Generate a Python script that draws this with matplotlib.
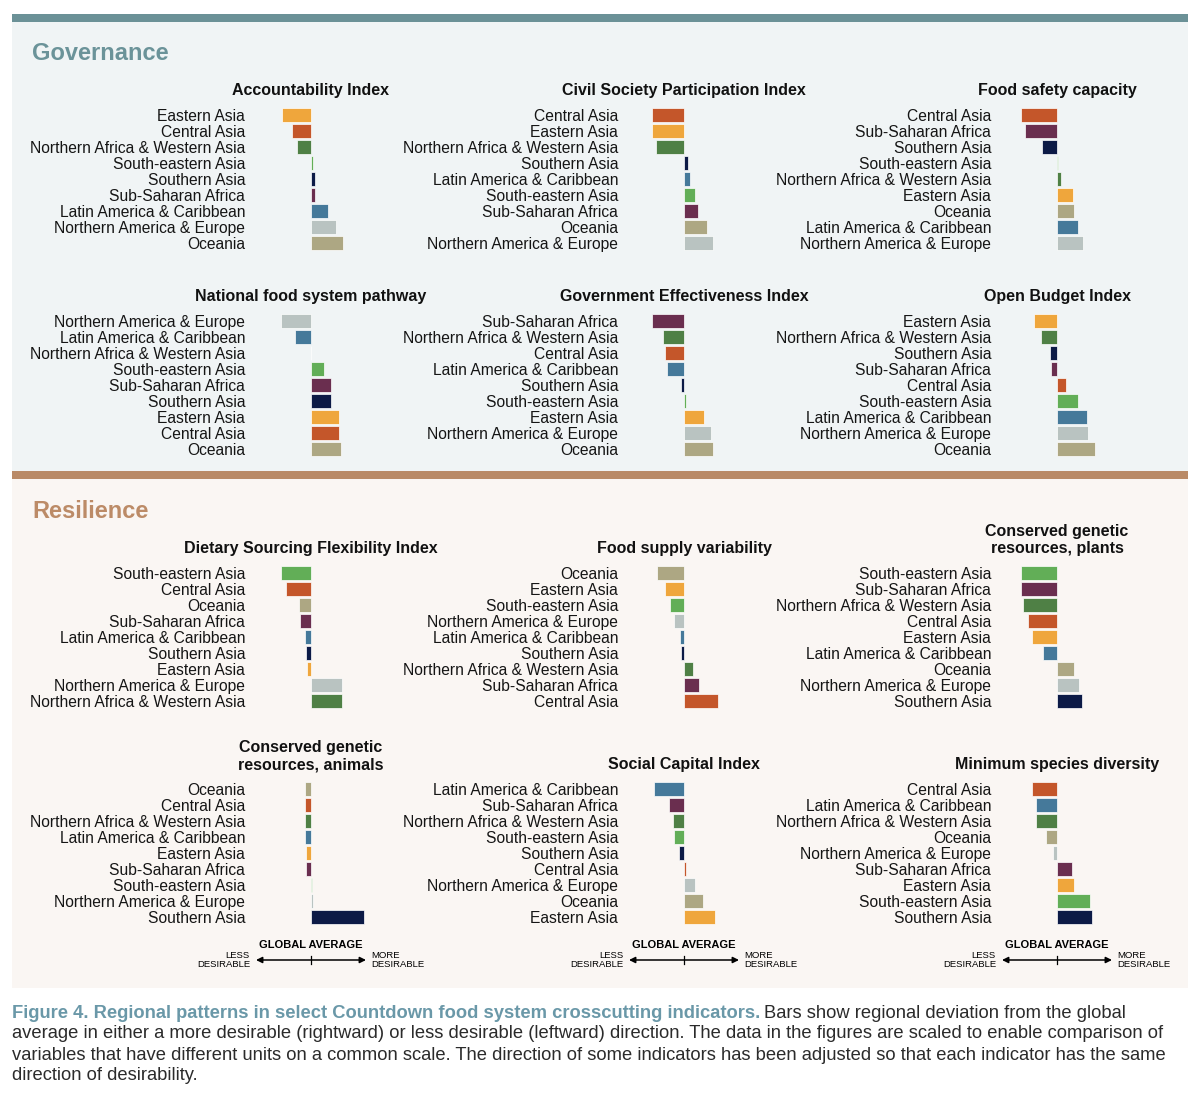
import matplotlib
matplotlib.use('Agg')
import matplotlib.pyplot as plt
from matplotlib.patches import Rectangle

plt.rcParams['font.family'] = ['Liberation Sans', 'DejaVu Sans']

W, H = 1200, 1103

region_colors = {
    'Eastern Asia': '#EFA63C',
    'Central Asia': '#C4562A',
    'Northern Africa & Western Asia': '#4F8045',
    'South-eastern Asia': '#62AE57',
    'Southern Asia': '#0C1A46',
    'Sub-Saharan Africa': '#6A2E4F',
    'Latin America & Caribbean': '#45799A',
    'Northern America & Europe': '#B9C3C1',
    'Oceania': '#ADA783',
}

# deviation from the global average (scaled units)
accountability_regions = ['Eastern Asia', 'Central Asia', 'Northern Africa & Western Asia',
                          'South-eastern Asia', 'Southern Asia', 'Sub-Saharan Africa',
                          'Latin America & Caribbean', 'Northern America & Europe', 'Oceania']
accountability_values = [-29, -19.5, -14, 2, 4, 4, 17, 25, 32]

civil_regions = ['Central Asia', 'Eastern Asia', 'Northern Africa & Western Asia',
                 'Southern Asia', 'Latin America & Caribbean', 'South-eastern Asia',
                 'Sub-Saharan Africa', 'Oceania', 'Northern America & Europe']
civil_values = [-32, -32, -28, 4, 6, 11, 14, 23, 29]

food_safety_regions = ['Central Asia', 'Sub-Saharan Africa', 'Southern Asia',
                       'South-eastern Asia', 'Northern Africa & Western Asia', 'Eastern Asia',
                       'Oceania', 'Latin America & Caribbean', 'Northern America & Europe']
food_safety_values = [-36, -32, -15.5, 0.5, 4, 16, 17, 20.5, 25.5]

pathway_regions = ['Northern America & Europe', 'Latin America & Caribbean',
                   'Northern Africa & Western Asia', 'South-eastern Asia', 'Sub-Saharan Africa',
                   'Southern Asia', 'Eastern Asia', 'Central Asia', 'Oceania']
pathway_values = [-30.5, -16, 0, 13, 20, 20, 28, 28, 30]

effectiveness_regions = ['Sub-Saharan Africa', 'Northern Africa & Western Asia', 'Central Asia',
                         'Latin America & Caribbean', 'Southern Asia', 'South-eastern Asia',
                         'Eastern Asia', 'Northern America & Europe', 'Oceania']
effectiveness_values = [-32, -21, -19, -17, -3, 1.5, 19.5, 27, 29]

budget_regions = ['Eastern Asia', 'Northern Africa & Western Asia', 'Southern Asia',
                  'Sub-Saharan Africa', 'Central Asia', 'South-eastern Asia',
                  'Latin America & Caribbean', 'Northern America & Europe', 'Oceania']
budget_values = [-23, -16, -7, -6.5, 9, 20.5, 30, 31, 38]

dietary_regions = ['South-eastern Asia', 'Central Asia', 'Oceania', 'Sub-Saharan Africa',
                   'Latin America & Caribbean', 'Southern Asia', 'Eastern Asia',
                   'Northern America & Europe', 'Northern Africa & Western Asia']
dietary_values = [-30, -25.5, -12, -11, -6.5, -5.5, -4, 30.5, 30.5]

supply_regions = ['Oceania', 'Eastern Asia', 'South-eastern Asia', 'Northern America & Europe',
                  'Latin America & Caribbean', 'Southern Asia', 'Northern Africa & Western Asia',
                  'Sub-Saharan Africa', 'Central Asia']
supply_values = [-27, -19, -14.5, -10, -4, -3.5, 8.5, 15, 34]

plants_regions = ['South-eastern Asia', 'Sub-Saharan Africa', 'Northern Africa & Western Asia',
                  'Central Asia', 'Eastern Asia', 'Latin America & Caribbean', 'Oceania',
                  'Northern America & Europe', 'Southern Asia']
plants_values = [-36, -36, -34.5, -29.5, -25, -14, 16.5, 21.5, 25]

animals_regions = ['Oceania', 'Central Asia', 'Northern Africa & Western Asia',
                   'Latin America & Caribbean', 'Eastern Asia', 'Sub-Saharan Africa',
                   'South-eastern Asia', 'Northern America & Europe', 'Southern Asia']
animals_values = [-6.5, -6.5, -6.5, -6.5, -5.5, -5, 0.5, 1.5, 53]

social_regions = ['Latin America & Caribbean', 'Sub-Saharan Africa',
                  'Northern Africa & Western Asia', 'South-eastern Asia', 'Southern Asia',
                  'Central Asia', 'Northern America & Europe', 'Oceania', 'Eastern Asia']
social_values = [-30, -15.5, -11.5, -10.5, -5.5, 2, 10.5, 19, 30.5]

species_regions = ['Central Asia', 'Latin America & Caribbean', 'Northern Africa & Western Asia',
                   'Oceania', 'Northern America & Europe', 'Sub-Saharan Africa', 'Eastern Asia',
                   'South-eastern Asia', 'Southern Asia']
species_values = [-25.5, -21.5, -21, -11.5, -4.5, 15, 16.5, 33, 35]

panels = [
    ('Accountability Index', accountability_regions, accountability_values),
    ('Civil Society Participation Index', civil_regions, civil_values),
    ('Food safety capacity', food_safety_regions, food_safety_values),
    ('National food system pathway', pathway_regions, pathway_values),
    ('Government Effectiveness Index', effectiveness_regions, effectiveness_values),
    ('Open Budget Index', budget_regions, budget_values),
    ('Dietary Sourcing Flexibility Index', dietary_regions, dietary_values),
    ('Food supply variability', supply_regions, supply_values),
    ('Conserved genetic\nresources, plants', plants_regions, plants_values),
    ('Conserved genetic\nresources, animals', animals_regions, animals_values),
    ('Social Capital Index', social_regions, social_values),
    ('Minimum species diversity', species_regions, species_values),
]

zero_x = [311, 684, 1057]
row_top = [115, 321, 573, 789]
half = 60


def box(x0, y0, x1, y1):
    # pixel box (top-left origin) -> figure fraction rect
    return [x0 / W, 1 - y1 / H, (x1 - x0) / W, (y1 - y0) / H]


fig = plt.figure(figsize=(W / 100, H / 100), dpi=100)
fig.patch.set_facecolor('white')

for (x0, y0, x1, y1, c) in [(12, 14, 1188, 22, '#6B9197'),
                            (12, 22, 1188, 471, '#F0F4F5'),
                            (12, 471, 1188, 479, '#B98A67'),
                            (12, 479, 1188, 988, '#FAF6F3')]:
    r = box(x0, y0, x1, y1)
    fig.add_artist(Rectangle((r[0], r[1]), r[2], r[3], transform=fig.transFigure,
                             facecolor=c, edgecolor='none', zorder=0))

fig.text(32 / W, 1 - 53 / H, 'Governance', fontsize=17, fontweight='bold',
         color='#6B9399', va='center')
fig.text(32 / W, 1 - 512 / H, 'Resilience', fontsize=17, fontweight='bold',
         color='#BC8B67', va='center')

for i, (title, regions, values) in enumerate(panels):
    row, col = divmod(i, 3)
    z = zero_x[col]
    top = row_top[row] - 8
    ax = fig.add_axes(box(z - half, top, z + half, top + 16 * len(regions)))
    ax.set_facecolor('none')
    ypos = list(range(len(regions)))
    ax.barh(ypos, values, height=0.92, color=[region_colors[r] for r in regions],
            edgecolor='white', linewidth=0.5)
    ax.set_xlim(-half, half)
    ax.set_ylim(len(regions) - 0.5, -0.5)
    ax.set_yticks(ypos, labels=regions, fontsize=11.25, color='#151515')
    ax.tick_params(axis='y', length=0, pad=4.3)
    ax.set_xticks([])
    for s in ax.spines.values():
        s.set_visible(False)
    ax.set_title(title, fontsize=11.5, fontweight='bold', pad=8.5, linespacing=1.2,
                 color='#111111')

# direction legends under the last row
for z in zero_x:
    lax = fig.add_axes(box(z - half, 935, z + half, 975))
    lax.set_axis_off()
    lax.set_xlim(-half, half)
    lax.set_ylim(40, 0)
    lax.annotate('', xy=(55, 25), xytext=(-55, 25),
                 arrowprops=dict(arrowstyle='<|-|>', color='black', lw=1.1,
                                 mutation_scale=9, shrinkA=0, shrinkB=0))
    lax.plot([0, 0], [21, 29], color='black', lw=0.9)
    lax.text(0, 10, 'GLOBAL AVERAGE', fontsize=8, fontweight='bold',
             ha='center', va='center')
    lax.text(-61, 25, 'LESS\nDESIRABLE', fontsize=6.8, ha='right', va='center',
             linespacing=1.0, clip_on=False)
    lax.text(60, 25, 'MORE\nDESIRABLE', fontsize=6.8, ha='left', va='center',
             linespacing=1.0, clip_on=False)

# caption
cap_size = 13.2
renderer = fig.canvas.get_renderer()
t = fig.text(12 / W, 1 - 1013 / H,
             'Figure 4. Regional patterns in select Countdown food system crosscutting indicators.',
             fontsize=cap_size, fontweight='bold', color='#6A98A8', va='center')
bb = t.get_window_extent(renderer)
fig.text((bb.x1 + 4) / W, 1 - 1013 / H,
         'Bars show regional deviation from the global',
         fontsize=cap_size, color='#2B2B2B', va='center')
caption_lines = [
    'average in either a more desirable (rightward) or less desirable (leftward) direction. '
    'The data in the figures are scaled to enable comparison of',
    'variables that have different units on a common scale. The direction of some indicators '
    'has been adjusted so that each indicator has the same',
    'direction of desirability.',
]
for k, line in enumerate(caption_lines):
    fig.text(12 / W, 1 - (1034 + 21 * k) / H, line, fontsize=cap_size,
             color='#2B2B2B', va='center')

fig.savefig('out.png', dpi=100)
